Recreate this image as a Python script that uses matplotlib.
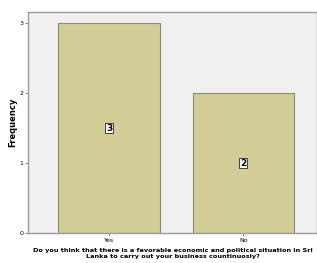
import matplotlib
matplotlib.use("Agg")
import matplotlib.pyplot as plt

categories = ["Yes", "No"]
frequencies = [3, 2]
yticks = [0, 1, 2, 3]

fig = plt.figure(figsize=(3.17, 2.63), dpi=100)
fig.patch.set_facecolor("white")
ax = fig.add_axes([0.088, 0.114, 0.912, 0.84])
ax.set_facecolor("#f0f0f0")

x = list(range(len(categories)))
bars = ax.bar(x, frequencies, width=0.754, color="#d3ce97", edgecolor="#8a8a78", linewidth=0.8, zorder=2)
for xi, v in zip(x, frequencies):
    ax.text(xi, v / 2, str(v), ha="center", va="center", fontsize=6.5, fontweight="bold",
            bbox=dict(boxstyle="square,pad=0.1", facecolor="white", edgecolor="black", linewidth=0.5), zorder=3)

ax.set_xlim(-0.605, 1.55)
ax.set_ylim(0, 3.157)
ax.set_xticks(x)
ax.set_xticklabels(categories, fontsize=4.5)
ax.set_yticks(yticks)
ax.set_yticklabels([str(t) for t in yticks], fontsize=4.5)
ax.tick_params(length=2, width=0.5, pad=1.5, color="#555555")
for s in ax.spines.values():
    s.set_color("#9a9a9a")
    s.set_linewidth(1.0)
ax.set_ylabel("Frequency", fontsize=6, fontweight="bold", labelpad=1)
ax.set_xlabel("Do you think that there is a favorable economic and political situation in Sri\nLanka to carry out your business countinuosly?",
              fontsize=4.65, fontweight="bold", labelpad=4, linespacing=1.15)

fig.savefig("out.png", dpi=100)
